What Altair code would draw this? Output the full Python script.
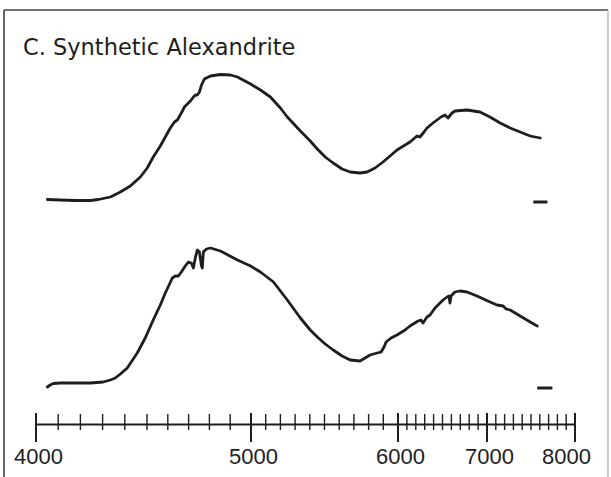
import altair as alt
import pandas as pd

title_text = "C. Synthetic Alexandrite"

# Upper spectrum: wavelength (Å) and relative absorption (arbitrary units)
upper_wl = [4051, 4109, 4177, 4245, 4281, 4335, 4380, 4425, 4470, 4501, 4530, 4564, 4588,
            4612, 4632, 4646, 4665, 4680, 4694, 4709, 4723, 4733, 4742, 4752, 4762, 4776,
            4805, 4853, 4901, 4935, 4998, 5064, 5132, 5200, 5247, 5336, 5403, 5451, 5505,
            5559, 5620, 5675, 5742, 5790, 5844, 5898, 5946, 5993, 6135, 6213, 6247, 6292,
            6326, 6393, 6438, 6483, 6528, 6562, 6607, 6640, 6775, 6921, 7034, 7149, 7263,
            7377, 7491, 7606]
upper_abs = [224.5, 224, 223.5, 223.5, 224.5, 227, 232, 238, 247, 256, 267, 278, 287,
             296, 302, 304, 311, 317, 320, 323, 327, 329, 329, 332, 339, 345,
             348, 349.5, 349, 347, 340, 334, 327, 316, 307, 293, 283, 275, 267,
             261, 255, 252, 251, 252, 256, 262, 268, 274, 282, 288, 287, 292,
             296, 301, 304, 307, 309, 306, 311, 313, 314, 312, 307, 301, 296,
             292, 288, 286]

# Lower spectrum
lower_wl = [4051, 4064, 4078, 4109, 4177, 4245, 4303, 4335, 4357, 4380, 4411, 4456, 4492,
            4530, 4564, 4588, 4622, 4636, 4651, 4665, 4684, 4699, 4713, 4723, 4733, 4742,
            4752, 4762, 4766, 4771, 4786, 4805, 4853, 4935, 4998, 5064, 5153, 5247, 5336,
            5403, 5451, 5505, 5559, 5620, 5675, 5742, 5810, 5858, 5885, 5905, 5919, 5953,
            5993, 6079, 6135, 6225, 6258, 6281, 6326, 6360, 6416, 6472, 6506, 6551, 6573,
            6584, 6596, 6640, 6697, 6775, 6888, 7034, 7114, 7183, 7217, 7263, 7377, 7491,
            7571]
lower_abs = [37, 39, 40.5, 41, 41, 41, 42, 44, 46, 50, 56, 71, 86,
             104, 119, 131, 146, 148, 148, 152, 158, 162, 161, 156, 167, 174,
             172, 158, 156, 172, 175, 176, 173, 164, 158, 152, 142, 124, 106,
             94, 87, 80, 74, 68, 64, 63, 69, 71, 72, 77, 82, 86,
             89, 94, 98, 103, 104, 101, 107, 109, 116, 121, 124, 127, 128,
             121, 128, 132, 133, 132, 128, 122, 119, 118, 115, 114, 108, 102,
             98]

# Axis ticks (Å)
major_ticks = [4000, 5000, 6000, 7000, 8000]
minor_ticks = [w for w in range(4100, 8000, 100) if w % 1000 != 0]

# Short reference marks at the right of each spectrum
marker_start = [7526, 7571]
marker_end = [7686, 7743]
marker_level = [222, 36]

curves = pd.concat([
    pd.DataFrame({"w": upper_wl, "v": upper_abs, "s": "upper"}),
    pd.DataFrame({"w": lower_wl, "v": lower_abs, "s": "lower"}),
])
markers = pd.DataFrame({"w": marker_start, "w2": marker_end, "v": marker_level})
majors = pd.DataFrame({"w": major_ticks})
minors = pd.DataFrame({"w": minor_ticks})
one = pd.DataFrame({"t": [title_text]})

INK = "#1e1e1e"

xscale = alt.Scale(domain=[4000, 4500, 5000, 6000, 7000, 8000],
                   range=[0, 111, 215, 362, 451, 539], zero=False, nice=False)
yscale = alt.Scale(domain=[0, 414], zero=False, nice=False)

X = alt.X("w:Q", scale=xscale,
          axis=alt.Axis(values=major_ticks, ticks=False, domain=True, domainColor=INK,
                        domainWidth=2, labelFontSize=22, labelFont="Liberation Sans",
                        labelColor=INK, labelPadding=22, labelFlush=False,
                        labelOverlap=False, grid=False, title=None, format="d",
                        labelOffset={"condition": {"test": "datum.value === 8000", "value": -9},
                                     "value": 2}))
Y = alt.Y("v:Q", scale=yscale, axis=None)

frame_left = alt.Chart(one).mark_rule(color="#333", strokeWidth=1.5).encode(
    x=alt.value(-32), y=alt.value(0), y2=alt.value(467))
frame_top = alt.Chart(one).mark_rule(color="#444", strokeWidth=1.5).encode(
    x=alt.value(-32), x2=alt.value(572), y=alt.value(0))
frame_right = alt.Chart(one).mark_rule(color="#aaa", strokeWidth=1.2).encode(
    x=alt.value(572), y=alt.value(0), y2=alt.value(467))

minor_rules = alt.Chart(minors).mark_rule(color=INK, strokeWidth=1.4).encode(
    x=X, y=alt.value(404), y2=alt.value(420))
major_rules = alt.Chart(majors).mark_rule(color=INK, strokeWidth=2).encode(
    x=X, y=alt.value(403), y2=alt.value(432))

lines = alt.Chart(curves).mark_line(color=INK, strokeWidth=2.8, strokeJoin="round",
                                    strokeCap="round").encode(
    x=X, y=Y, detail="s:N")

marks = alt.Chart(markers).mark_rule(color=INK, strokeWidth=3).encode(
    x=X, x2="w2:Q", y=Y)

title = alt.Chart(one).mark_text(align="left", baseline="alphabetic", fontSize=22.5,
                                 font="DejaVu Sans", color=INK).encode(
    text="t:N", x=alt.value(-13), y=alt.value(45))

chart = alt.layer(frame_left, frame_top, frame_right, minor_rules, major_rules,
                  lines, marks, title).properties(
    width=539, height=414,
    padding={"left": 36, "top": 10, "right": 36, "bottom": 53},
    autosize="none",
    background="white",
).configure_view(stroke=None)

chart.save("out.html", embed_options={"renderer": "svg", "actions": False})
